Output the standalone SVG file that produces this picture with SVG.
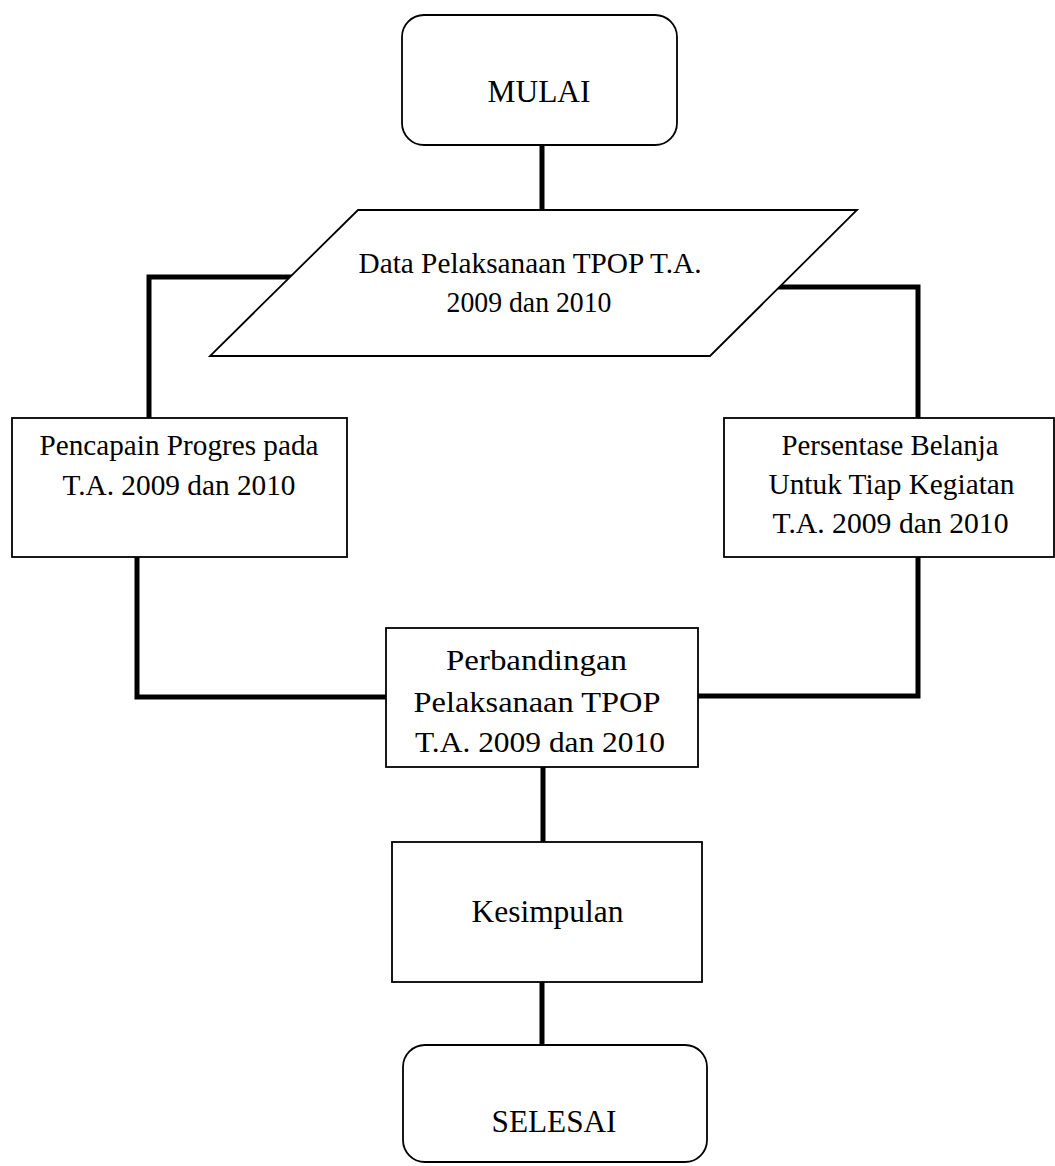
<svg xmlns="http://www.w3.org/2000/svg" width="1055" height="1166" viewBox="0 0 1055 1166">
<style>
.box{fill:#fff;stroke:#000;stroke-width:1.8}
.t{font-family:"Liberation Serif","Times New Roman",serif;font-size:28.5px;fill:#000}
.tb{font-family:"Liberation Serif","Times New Roman",serif;font-size:31px;fill:#000}
.c{fill:none;stroke:#000;stroke-width:5;stroke-linecap:square}
</style>
<rect width="1055" height="1166" fill="#fff"/>
<g id="connectors">
<line class="c" x1="542" y1="146" x2="542" y2="209"/>
<polyline class="c" points="292,277 149,277 149,417"/>
<polyline class="c" points="774,287 918,287 918,417"/>
<polyline class="c" points="137,558 137,697 384,697"/>
<polyline class="c" points="918,558 918,696 700,696"/>
<line class="c" x1="543" y1="768" x2="543" y2="841"/>
<line class="c" x1="542" y1="983" x2="542" y2="1044"/>
</g>
<g id="mulai">
<rect class="box" x="402" y="15" width="275" height="130" rx="22"/>
<text class="tb" x="487.5" y="102" textLength="103" lengthAdjust="spacingAndGlyphs">MULAI</text>
</g>
<g id="data">
<polygon class="box" points="358,210 857,210 710,356 210,356"/>
<text class="t" x="358.5" y="273" textLength="343" lengthAdjust="spacingAndGlyphs">Data Pelaksanaan TPOP T.A.</text>
<text class="t" x="446.5" y="312" textLength="165" lengthAdjust="spacingAndGlyphs">2009 dan 2010</text>
</g>
<g id="pencapaian">
<rect class="box" x="12" y="418" width="335" height="139"/>
<text class="t" x="39.5" y="455" textLength="279" lengthAdjust="spacingAndGlyphs">Pencapain Progres pada</text>
<text class="t" x="62.5" y="495" textLength="233" lengthAdjust="spacingAndGlyphs">T.A. 2009 dan 2010</text>
</g>
<g id="persentase">
<rect class="box" x="724" y="418" width="330" height="139"/>
<text class="t" x="781.5" y="455" textLength="217" lengthAdjust="spacingAndGlyphs">Persentase Belanja</text>
<text class="t" x="768.5" y="494" textLength="246" lengthAdjust="spacingAndGlyphs">Untuk Tiap Kegiatan</text>
<text class="t" x="772.5" y="533" textLength="236" lengthAdjust="spacingAndGlyphs">T.A. 2009 dan 2010</text>
</g>
<g id="perbandingan">
<rect class="box" x="386" y="628" width="312" height="139"/>
<text class="t" x="446" y="670" textLength="181" lengthAdjust="spacingAndGlyphs">Perbandingan</text>
<text class="t" x="413.5" y="712" textLength="247" lengthAdjust="spacingAndGlyphs">Pelaksanaan TPOP</text>
<text class="t" x="415" y="752" textLength="250" lengthAdjust="spacingAndGlyphs">T.A. 2009 dan 2010</text>
</g>
<g id="kesimpulan">
<rect class="box" x="392" y="842" width="310" height="140"/>
<text class="tb" x="471.5" y="922" textLength="152" lengthAdjust="spacingAndGlyphs">Kesimpulan</text>
</g>
<g id="selesai">
<rect class="box" x="403" y="1045" width="304" height="117" rx="22"/>
<text class="tb" x="491.5" y="1132" textLength="125" lengthAdjust="spacingAndGlyphs">SELESAI</text>
</g>
</svg>
